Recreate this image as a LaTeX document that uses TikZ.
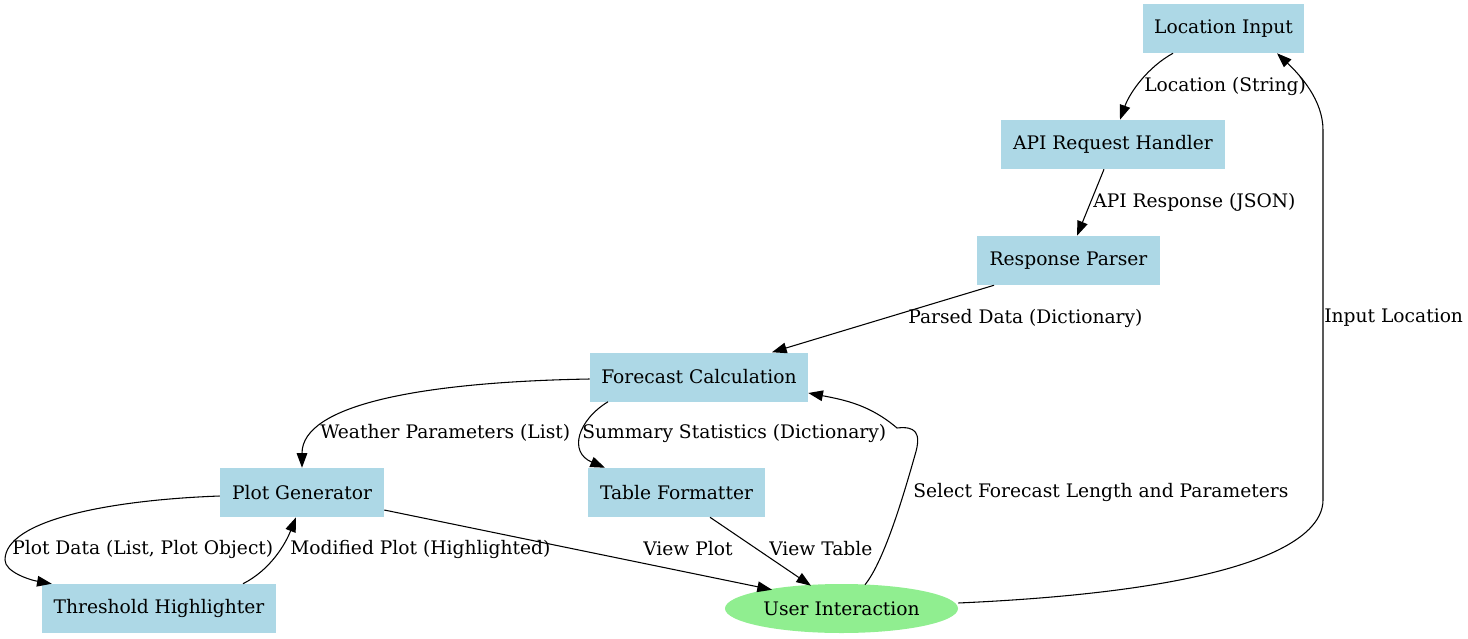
\documentclass[tikz,border=0pt]{standalone}
\usepackage{fontspec}
\setmainfont{DejaVu Serif}
\usetikzlibrary{arrows.meta,shapes.geometric,calc}
\definecolor{lblue}{HTML}{ADD8E6}
\definecolor{lgreen}{HTML}{90EE90}
\begin{document}
\begin{tikzpicture}[x=0.75pt,y=-0.75pt,
  box/.style={fill=lblue,draw=none,inner sep=0pt,minimum height=36.75pt,font=\fontsize{14}{16}\selectfont},
  oval/.style={ellipse,fill=lgreen,draw=none,inner sep=0pt,minimum width=174.75pt,minimum height=36.75pt,font=\fontsize{14}{16}\selectfont},
  lbl/.style={anchor=west,inner sep=0pt,font=\fontsize{14}{16}\selectfont},
  conn/.style={draw=black,line width=0.8pt,-{Triangle[length=11pt,width=8pt]}}]
\useasboundingbox (0,0) rectangle (1468,639);
\node[box,minimum width=120.75pt] (loc) at (1223.5,28.5) {Location Input};
\node[box,minimum width=168pt] (api) at (1113,144.5) {API Request Handler};
\node[box,minimum width=137.25pt] (resp) at (1068.5,260.5) {Response Parser};
\node[box,minimum width=163.5pt] (fc) at (699,377) {Forecast Calculation};
\node[box,minimum width=123pt] (plot) at (302,492.5) {Plot Generator};
\node[box,minimum width=132.75pt] (tab) at (676.5,492.5) {Table Formatter};
\node[box,minimum width=175.5pt] (thr) at (159,608.5) {Threshold Highlighter};
\node[oval] (user) at (841.5,608.5) {User Interaction};
% connectors
\draw[conn] ($(loc.south)+(-50.5,0)$) .. controls (1148,67) and (1130,92) .. ($(api.north)+(7,0)$);
\draw[conn] ($(api.south)+(-9,0)$) -- ($(resp.north)+(8.5,0)$);
\draw[conn] ($(resp.south)+(-74.5,0)$) -- ($(fc.north)+(73,0)$);
\draw[conn] ($(fc.west)+(0,2)$) .. controls (420,382) and (302,405) .. (plot.north);
\draw[conn] ($(fc.south)+(-91,0)$) .. controls (578,420) and (568,452) .. ($(tab.north)+(-71.5,0)$);
\draw[conn] ($(plot.west)+(0,3.5)$) .. controls (110,500) and (5,520) .. (5,560) .. controls (5,572) and (30,580) .. ($(thr.north west)+(10,0)$);
\draw[conn] ($(thr.north)+(84,0)$) .. controls (270,570) and (285,545) .. ($(plot.south)+(-6,0)$);
\draw[conn] ($(plot.east)+(0,17.5)$) -- ($(user.north)+(-69.5,6)$);
\draw[conn] ($(tab.south)+(33.5,0)$) -- ($(user.north)+(-30.5,2)$);
\draw[conn] ($(user.north)+(23.5,1)$) .. controls (885,560) and (905,490) .. (915,455) .. controls (922,432) and (915,426) .. (897,428) .. controls (870,405) and (845,400) .. ($(fc.east)+(0,16)$);
\draw[conn] ($(user.east)+(0,-5.5)$) .. controls (1250,590) and (1323,540) .. (1323,500) -- (1323,130) .. controls (1323,100) and (1300,75) .. ($(loc.south)+(53.5,0)$);
% labels
\node[lbl] (l1) at (1144,86) {Location (String)};
\node[lbl] (l2) at (1093,202) {API Response (JSON)};
\node[lbl] (l3) at (908,318) {Parsed Data (Dictionary)};
\node[lbl] (l4) at (1324,318) {Input Location};
\node[lbl] (l5) at (320,433) {Weather Parameters (List)};
\node[lbl] (l6) at (582,433) {Summary Statistics (Dictionary)};
\node[lbl] (l7) at (913,492) {Select Forecast Length and Parameters};
\node[lbl] (l8) at (12,549) {Plot Data (List, Plot Object)};
\node[lbl] (l9) at (290,549) {Modified Plot (Highlighted)};
\node[lbl] (l10) at (643,549) {View Plot};
\node[lbl] (l11) at (769,549) {View Table};
\end{tikzpicture}
\end{document}
